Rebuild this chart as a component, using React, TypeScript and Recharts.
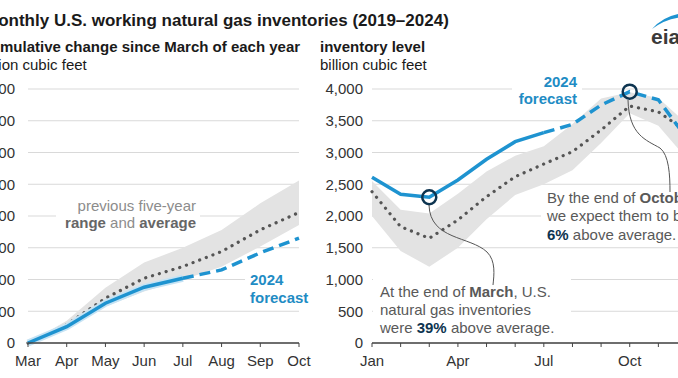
import React from 'react';
import { ComposedChart, Line, Area, XAxis, YAxis, CartesianGrid } from 'recharts';

// left panel: cumulative change since end of March (Bcf)
const cumMonths = ['Mar', 'Apr', 'May', 'Jun', 'Jul', 'Aug', 'Sep', 'Oct'];
const cum2024 = [0, 257, 626, 878, 1020, null, null, null];
const cum2024Forecast = [null, null, null, null, 1020, 1151, 1420, 1651];
const cumAverage = [0, 290, 705, 1020, 1204, 1440, 1782, 2055];
const cumRangeLow = [0, 205, 573, 810, 995, 1200, 1520, 1860];
const cumRangeHigh = [0, 350, 870, 1267, 1500, 1780, 2200, 2560];

// right panel: inventory level (Bcf)
const invMonths = ['Jan', 'Feb', 'Mar', 'Apr', 'May', 'Jun', 'Jul', 'Aug', 'Sep', 'Oct', 'Nov', 'Dec'];
const invLabels = ['Jan', 'Apr', 'Jul', 'Oct'];
const inv2024 = [2610, 2341, 2295, 2567, 2893, 3170, 3312, null, null, null, null, null];
const inv2024Forecast = [null, null, null, null, null, null, 3312, 3443, 3748, 3958, 3830, 3220];
const invAverage = [2383, 1832, 1649, 1937, 2304, 2619, 2819, 3013, 3354, 3732, 3640, 3330];
const invRangeLow = [2000, 1450, 1200, 1500, 1950, 2330, 2500, 2720, 3150, 3620, 3420, 2900];
const invRangeHigh = [2550, 2100, 2040, 2350, 2700, 2950, 3100, 3450, 3850, 3950, 3860, 3450];
const invCallouts = ['Mar', 'Oct'];

const yTicks = [0, 500, 1000, 1500, 2000, 2500, 3000, 3500, 4000];

const cumData = cumMonths.map((m, i) => ({
  x: i,
  month: m,
  actual: cum2024[i],
  forecast: cum2024Forecast[i],
  avg: cumAverage[i],
  range: [cumRangeLow[i], cumRangeHigh[i]],
}));

const invData = invMonths.map((m, i) => ({
  x: i,
  month: m,
  actual: inv2024[i],
  forecast: inv2024Forecast[i],
  avg: invAverage[i],
  range: [invRangeLow[i], invRangeHigh[i]],
}));

const BLUE = '#1e93d0';
const BLUE_TEXT = '#1f8cc4';
const NAVY = '#0d3450';
const BAND = '#e3e3e3';
const GRID = '#d9d9d9';
const FONT = '"Liberation Sans", Arial, sans-serif';

const tickStyle = { fontSize: 15, fill: '#333', fontFamily: FONT };
const fmt = (v: number) => v.toLocaleString('en-US');

const calloutDot = (props: any) => {
  const { cx, cy, payload, index } = props;
  if (payload && invCallouts.includes(payload.month) && cy != null) {
    return <circle key={`c${index}`} cx={cx} cy={cy} r={7} fill="none" stroke={NAVY} strokeWidth={2.5} />;
  }
  return <g key={`n${index}`} />;
};

export default function App() {
  return (
    <div style={{ position: 'absolute', left: 0, top: 0, width: 678, height: 378, overflow: 'hidden', background: '#fff', fontFamily: FONT }}>
      {/* left panel */}
      <div style={{ position: 'absolute', left: -60, top: 79 }}>
        <ComposedChart width={379} height={299} data={cumData} margin={{ top: 10, right: 20, bottom: 0, left: 0 }}>
          <CartesianGrid vertical={false} stroke={GRID} />
          <XAxis dataKey="x" type="number" domain={[0, 7]} ticks={cumMonths.map((_, i) => i)} interval={0}
            tickFormatter={(i) => cumMonths[i]} tick={tickStyle} height={35}
            axisLine={{ stroke: '#444', strokeWidth: 1.5 }} tickLine={{ stroke: '#444' }} tickSize={4} tickMargin={8} />
          <YAxis type="number" domain={[0, 4000]} ticks={yTicks} tickFormatter={fmt} tick={tickStyle} width={88}
            axisLine={false} tickLine={false} tickSize={0} tickMargin={13} />
          <Area dataKey="range" stroke="none" fill={BAND} fillOpacity={1} isAnimationActive={false} />
          <Line dataKey="avg" stroke="#555" strokeWidth={3.2} strokeDasharray="0.1 7" strokeLinecap="round" dot={false} isAnimationActive={false} />
          <Line dataKey="actual" stroke="#c6e3f4" strokeWidth={7} dot={false} isAnimationActive={false} />
          <Line dataKey="actual" stroke={BLUE} strokeWidth={3.5} dot={false} isAnimationActive={false} />
          <Line dataKey="forecast" stroke={BLUE} strokeWidth={3.5} strokeDasharray="11 6" dot={false} isAnimationActive={false} />
        </ComposedChart>
      </div>

      {/* right panel */}
      <div style={{ position: 'absolute', left: 302, top: 79 }}>
        <ComposedChart width={385} height={299} data={invData} margin={{ top: 10, right: 0, bottom: 0, left: 0 }}>
          <CartesianGrid vertical={false} stroke={GRID} />
          <XAxis dataKey="x" type="number" domain={[0, 11]} ticks={invMonths.map((_, i) => i)} interval={0}
            tickFormatter={(i) => (invLabels.includes(invMonths[i]) ? invMonths[i] : '')} tick={tickStyle} height={35}
            axisLine={{ stroke: '#444', strokeWidth: 1.5 }} tickLine={{ stroke: '#444' }} tickSize={4} tickMargin={8} />
          <YAxis type="number" domain={[0, 4000]} ticks={yTicks} tickFormatter={fmt} tick={tickStyle} width={70}
            axisLine={false} tickLine={false} tickSize={0} tickMargin={9} />
          <Area dataKey="range" stroke="none" fill={BAND} fillOpacity={1} isAnimationActive={false} />
          <Line dataKey="avg" stroke="#555" strokeWidth={3.2} strokeDasharray="0.1 7" strokeLinecap="round" dot={false} isAnimationActive={false} />
          <Line dataKey="actual" stroke={BLUE} strokeWidth={3.5} dot={calloutDot} isAnimationActive={false} />
          <Line dataKey="forecast" stroke={BLUE} strokeWidth={3.5} strokeDasharray="11 6" dot={calloutDot} isAnimationActive={false} />
        </ComposedChart>
      </div>

      {/* titles, notes, logo */}
      <svg width={678} height={378} style={{ position: 'absolute', left: 0, top: 0, pointerEvents: 'none' }} fontFamily={FONT}>
        <text x={-16} y={26} fontSize={17} fontWeight="bold" fill="#1a1a1a">Monthly U.S. working natural gas inventories (2019–2024)</text>
        <text x={-20} y={52} fontSize={15} fontWeight="bold" fill="#1a1a1a">Cumulative change since March of each year</text>
        <text x={-20} y={70} fontSize={15} fill="#1a1a1a">billion cubic feet</text>
        <text x={320} y={52} fontSize={15} fontWeight="bold" fill="#1a1a1a">inventory level</text>
        <text x={320} y={70} fontSize={15} fill="#1a1a1a">billion cubic feet</text>

        <path d="M 652 29 Q 664 15 684 13 L 684 17 Q 666 18 652 29 Z" fill="#1e93d0" />
        <text x={651} y={44} fontSize={21} fontWeight="bold" fill="#3a3a3a">eia</text>

        <rect x={56} y={197} width={144} height={35} fill="#fff" />
        <text x={196} y={211} textAnchor="end" fontSize={15} fill="#8c8c8c">previous five-year</text>
        <text x={196} y={228} textAnchor="end" fontSize={15} fill="#8c8c8c">
          <tspan fontWeight="bold" fill="#666">range</tspan> and <tspan fontWeight="bold" fill="#666">average</tspan>
        </text>

        <rect x={245} y={271} width={66} height={35} fill="#fff" />
        <text x={250} y={285} fontSize={15} fontWeight="bold" fill={BLUE_TEXT}>2024</text>
        <text x={250} y={302.5} fontSize={15} fontWeight="bold" fill={BLUE_TEXT}>forecast</text>

        <rect x={512} y={72} width={70} height={36} fill="#fff" />
        <text x={577} y={87} textAnchor="end" fontSize={15} fontWeight="bold" fill={BLUE_TEXT}>2024</text>
        <text x={577} y={104} textAnchor="end" fontSize={15} fontWeight="bold" fill={BLUE_TEXT}>forecast</text>

        <rect x={373} y={276} width={198} height={62} fill="#fff" />
        <text x={380} y={297} fontSize={15} fill="#595959">At the end of <tspan fontWeight="bold">March</tspan>, U.S.</text>
        <text x={380} y={315} fontSize={15} fill="#595959">natural gas inventories</text>
        <text x={380} y={333} fontSize={15} fill="#595959">were <tspan fontWeight="bold" fill={NAVY}>39%</tspan> above average.</text>
        <path d="M 429 205 C 430 240, 470 236, 487 252 C 496 261, 494 275, 493 285" fill="none" stroke="#555" strokeWidth={1} />

        <rect x={541} y={189} width={150} height={56} fill="#fff" />
        <text x={547} y={203} fontSize={15} fill="#595959">By the end of <tspan fontWeight="bold">October</tspan>,</text>
        <text x={547} y={221} fontSize={15} fill="#595959">we expect them to be</text>
        <text x={547} y={240} fontSize={15} fill="#595959"><tspan fontWeight="bold" fill={NAVY}>6%</tspan> above average.</text>
        <path d="M 628 100 C 629 135, 646 140, 660 148 C 669 155, 670 175, 670 192" fill="none" stroke="#555" strokeWidth={1} />
      </svg>
    </div>
  );
}
